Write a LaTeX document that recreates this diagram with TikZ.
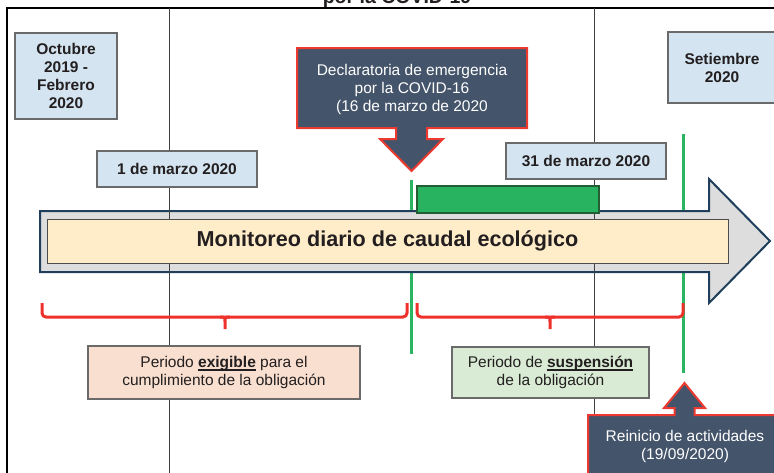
\documentclass[tikz,border=0pt]{standalone}
\usepackage{fontspec}
\setmainfont{Liberation Sans}
\usepackage{tikz}
\usetikzlibrary{positioning}
\usepackage{xcolor}

\definecolor{datefill}{HTML}{D4E4F1}
\definecolor{boxedge}{HTML}{6A6A6A}
\definecolor{slate}{HTML}{44546A}
\definecolor{calloutred}{HTML}{EC3A31}
\definecolor{flowgray}{HTML}{DEDDDD}
\definecolor{flownavy}{HTML}{1F3F5C}
\definecolor{beige}{HTML}{FFECC8}
\definecolor{rectgreen}{HTML}{27B35F}
\definecolor{rectedge}{HTML}{245C34}
\definecolor{linegreen}{HTML}{2BB462}
\definecolor{bracered}{HTML}{EE312A}
\definecolor{exigfill}{HTML}{F9DFCF}
\definecolor{suspfill}{HTML}{D9EBD4}
\definecolor{textdark}{HTML}{231F20}

% thick underline for the key words
\newcommand{\ulbold}[1]{\setbox0\hbox{\bfseries #1}\rlap{\rule[-3.6pt]{\wd0}{1.6pt}}\box0{}}

\tikzset{
	datebox/.style={draw=boxedge, fill=datefill, line width=1.2pt, inner sep=0pt, align=center, text=textdark, font=\fontsize{15.5}{18}\selectfont\bfseries},
	periodbox/.style={draw=boxedge, line width=1.2pt, inner sep=0pt, align=center, text=textdark, font=\fontsize{15.5}{18.5}\selectfont},
	callout/.style={draw=calloutred, fill=slate, line width=2pt},
	calltext/.style={text=white, align=center, font=\fontsize{15.5}{18}\selectfont},
	greenline/.style={draw=linegreen, line width=3pt},
	redbrace/.style={draw=bracered, line width=3pt, rounded corners=4pt},
	bracetick/.style={draw=bracered, line width=3pt},
	thinline/.style={draw=black!75, line width=0.9pt}
}

\begin{document}
\begin{tikzpicture}[x=1pt, y=-1pt]
	\useasboundingbox (0,0) rectangle (774,472);

	\node[anchor=base, text=textdark, font=\fontsize{19.5}{22}\selectfont\bfseries] (title) at (397,3.5) {por la COVID-19};

	% frame and time marks
	\draw[line width=1.3pt] (7,480) -- (7,8) -- (780,8);
	\draw[greenline] (411,180) -- (411,354);
	\draw[greenline] (683.5,134) -- (683.5,373);

	% the flow arrow
	\draw[draw=flownavy, fill=flowgray, line width=2pt] (40,211) -- (709,211) -- (709,179) -- (770,241)
		-- (709,303) -- (709,272) -- (40,272) -- cycle;
	\draw[thinline] (169,8) -- (169,480);
	\draw[thinline] (594,8) -- (594,480);

	\node[draw=black!70, fill=beige, line width=1pt, minimum width=681pt, minimum height=44pt, inner sep=0pt,
		text=textdark, font=\fontsize{21.6}{26}\selectfont\bfseries] (mon) at (387.5,241) {Monitoreo diario de caudal ecológico};
	\node[draw=rectedge, fill=rectgreen, line width=1.3pt, minimum width=182pt, minimum height=27pt, inner sep=0pt] (susp) at (508,199.5) {};

	% periods
	\draw[redbrace] (42,303) -- (42,317) -- (407,317) -- (407,303);
	\draw[redbrace] (417,303) -- (417,317) -- (683,317) -- (683,303);
	\draw[bracetick] (220,317) .. controls (225,317) .. (225,322) -- (225,329) -- (225,322) .. controls (225,317) .. (230,317);
	\draw[bracetick] (545,317) .. controls (550,317) .. (550,322) -- (550,329) -- (550,322) .. controls (550,317) .. (555,317);

	\draw (66,76) node[datebox, minimum width=102pt, minimum height=86pt] (oct) {Octubre\\2019 -\\Febrero\\2020}
		(177,169) node[datebox, minimum width=160pt, minimum height=36pt] (mar1) {1 de marzo 2020}
		(586,161) node[datebox, minimum width=160pt, minimum height=36pt] (mar31) {31 de marzo 2020}
		(722,67.5) node[datebox, minimum width=108pt, minimum height=71pt] (sep) {Setiembre\\2020};

	\draw (224,372.5) node[periodbox, fill=exigfill, minimum width=272pt, minimum height=53pt] (exig) {Periodo \ulbold{exigible} para el\\cumplimiento de la obligación}
		(550.5,372.5) node[periodbox, fill=suspfill, minimum width=197pt, minimum height=51pt] (suspper) {Periodo de \ulbold{suspensión}\\de la obligación};

	% callouts
	\draw[callout] (297,48) -- (527,48) -- (527,128) -- (427,128) -- (427,139) -- (443,139) -- (411.5,171)
		-- (380,139) -- (396,139) -- (396,128) -- (297,128) -- cycle;
	\node[calltext] (decl) at (412,89) {Declaratoria de emergencia\\por la COVID-16\\(16 de marzo de 2020};

	\draw[callout] (588,415) -- (674.5,415) -- (674.5,408) -- (664,408) -- (684.5,383) -- (705,408)
		-- (694.5,408) -- (694.5,415) -- (782,415) -- (782,480) -- (588,480) -- cycle;
	\node[calltext] (restart) at (685,446) {Reinicio de actividades\\(19/09/2020)};
\end{tikzpicture}
\end{document}
